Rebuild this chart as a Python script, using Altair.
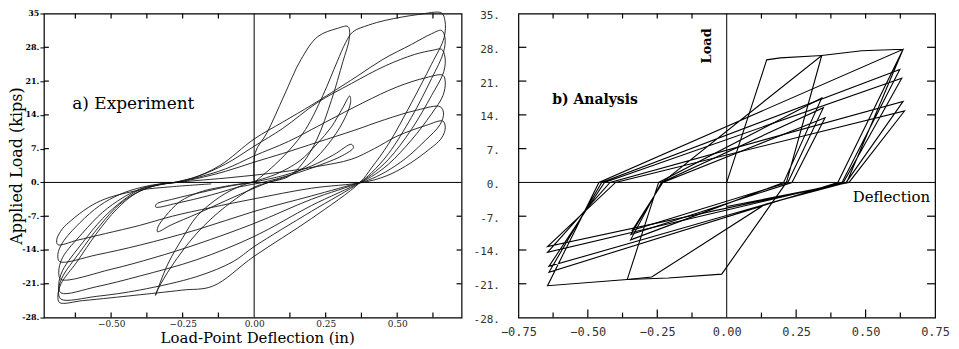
import altair as alt
import pandas as pd

# ---------------- data (deflection in, load kips) -------------
# a) Experiment: small cycles (about +/-0.34 in), then large cycles (about +/-0.67 in)
EXP_A1 = [(0, 0), (0.004, 6.2), (0.045, 10.3), (0.104, 17.9), (0.163, 25.4), (0.222, 30.2),
          (0.29, 31.9), (0.328, 32.3), (0.333, 30.0), (0.31, 25.0), (0.27, 17.0), (0.22, 9.0),
          (0.17, 4.0), (0.12, 1.2), (0.05, 0.0), (0.0, -1.0), (-0.1, -5.0), (-0.2, -10.5),
          (-0.29, -17.5), (-0.335, -22.0), (-0.345, -23.4), (-0.33, -21.0), (-0.30, -16.7),
          (-0.25, -11.5), (-0.2, -7.0), (-0.12, -3.0), (-0.05, -0.8), (0.0, 0.2)]
EXP_A2 = [(0.0, 0.2), (0.08, 1.8), (0.16, 4.5), (0.22, 8.0), (0.27, 11.5), (0.31, 15.5),
          (0.334, 17.9), (0.337, 16.5), (0.31, 12.5), (0.26, 8.0), (0.2, 4.2), (0.13, 1.6),
          (0.05, 0.0), (0.0, -1.2), (-0.1, -3.8), (-0.2, -6.5), (-0.29, -8.8), (-0.338, -10.2),
          (-0.336, -9.2), (-0.31, -7.0), (-0.26, -4.0), (-0.19, -2.0), (-0.1, -0.8), (0.0, 0.1)]
EXP_A3 = [(0.0, 0.1), (0.1, 1.4), (0.2, 3.4), (0.28, 5.8), (0.34, 7.9), (0.347, 7.2),
          (0.31, 5.6), (0.23, 3.6), (0.13, 1.6), (0.03, 0.0), (-0.05, -0.9), (-0.15, -2.6),
          (-0.27, -4.3), (-0.344, -5.1), (-0.342, -4.5), (-0.28, -3.4), (-0.18, -2.0),
          (-0.08, -0.7), (0.0, 0.0)]
EXP_B1 = [(0.0, 0.0), (0.06, 3.0), (0.12, 6.5), (0.18, 11.0), (0.24, 18.0), (0.29, 25.0),
          (0.32, 29.0), (0.345, 31.2), (0.4, 32.6), (0.46, 33.6), (0.575, 34.8), (0.655, 35.1),
          (0.667, 33.5), (0.664, 30.0), (0.62, 24.5), (0.55, 16.5), (0.47, 8.0), (0.41, 3.0),
          (0.37, 0.0), (0.2, -7.5), (0.0, -15.3), (-0.145, -21.5), (-0.25, -22.3),
          (-0.34, -22.9), (-0.5, -23.9), (-0.6, -24.5), (-0.68, -24.9), (-0.686, -23.5),
          (-0.675, -21.0), (-0.62, -16.5), (-0.55, -10.5), (-0.48, -5.5), (-0.42, -2.5),
          (-0.36, -0.9), (-0.3, -0.2)]
EXP_B2 = [(-0.3, -0.2), (-0.22, 0.8), (-0.12, 3.5), (0.0, 9.0), (0.1, 12.5), (0.2, 16.0),
          (0.27, 18.6), (0.36, 22.0), (0.45, 25.5), (0.55, 28.6), (0.62, 30.8), (0.655, 31.5),
          (0.667, 30.0), (0.662, 27.0), (0.62, 21.5), (0.55, 13.5), (0.47, 6.0), (0.41, 2.0),
          (0.37, 0.0), (0.2, -6.0), (0.0, -13.3), (-0.073, -16.4), (-0.2, -19.5),
          (-0.4, -22.3), (-0.55, -23.6), (-0.675, -24.2), (-0.684, -22.6), (-0.672, -19.8),
          (-0.61, -14.5), (-0.54, -9.0), (-0.47, -4.5), (-0.4, -1.8), (-0.34, -0.6),
          (-0.28, 0.0)]
EXP_B3 = [(-0.28, 0.0), (-0.2, 1.2), (-0.1, 3.8), (0.0, 7.5), (0.1, 11.2), (0.22, 16.5),
          (0.34, 20.5), (0.46, 24.2), (0.56, 26.5), (0.625, 27.4), (0.655, 27.6),
          (0.667, 26.0), (0.663, 23.0), (0.62, 18.0), (0.55, 11.0), (0.47, 4.8), (0.41, 1.6),
          (0.37, 0.0), (0.2, -4.8), (0.0, -11.2), (-0.2, -16.0), (-0.4, -19.4),
          (-0.55, -21.6), (-0.675, -22.9), (-0.683, -21.3), (-0.67, -18.3), (-0.6, -12.5),
          (-0.53, -7.5), (-0.46, -3.8), (-0.4, -1.5), (-0.33, -0.4), (-0.27, 0.0)]
EXP_B4 = [(-0.27, 0.0), (-0.2, 1.0), (-0.1, 2.8), (0.0, 5.5), (0.12, 8.5), (0.25, 12.5),
          (0.38, 16.5), (0.5, 19.8), (0.6, 21.7), (0.66, 22.2), (0.668, 20.8), (0.66, 18.0),
          (0.62, 14.2), (0.55, 8.8), (0.47, 3.8), (0.41, 1.2), (0.37, 0.0), (0.2, -3.5),
          (0.0, -8.5), (-0.2, -12.8), (-0.35, -15.6), (-0.5, -18.0), (-0.675, -20.1),
          (-0.683, -18.6), (-0.67, -15.6), (-0.6, -10.5), (-0.53, -6.2), (-0.46, -3.2),
          (-0.4, -1.4), (-0.33, -0.4), (-0.27, 0.0)]
EXP_B5 = [(-0.27, 0.0), (-0.2, 0.8), (-0.1, 2.3), (0.0, 4.2), (0.1, 6.0), (0.22, 8.3),
          (0.35, 10.8), (0.456, 13.0), (0.57, 15.0), (0.65, 15.7), (0.662, 14.4), (0.65, 12.0),
          (0.6, 8.8), (0.53, 5.0), (0.46, 2.2), (0.4, 0.5), (0.37, 0.0), (0.2, -2.8),
          (0.0, -6.0), (-0.2, -9.8), (-0.4, -13.0), (-0.55, -15.0), (-0.68, -16.4),
          (-0.686, -14.9), (-0.67, -12.5), (-0.61, -8.4), (-0.54, -4.8), (-0.47, -2.5),
          (-0.4, -1.1), (-0.33, -0.3), (-0.27, 0.0)]
EXP_B6 = [(-0.27, 0.0), (-0.2, 0.4), (-0.1, 0.9), (0.0, 1.5), (0.1, 2.2), (0.22, 3.3),
          (0.34, 4.8), (0.42, 7.0), (0.5, 9.6), (0.6, 11.8), (0.66, 12.7), (0.668, 11.3),
          (0.655, 9.2), (0.6, 6.3), (0.53, 3.4), (0.46, 1.3), (0.38, 0.0), (0.2, -1.2),
          (0.0, -3.4), (-0.15, -5.2), (-0.286, -7.0), (-0.4, -8.9), (-0.52, -10.6),
          (-0.62, -12.0), (-0.686, -12.9), (-0.69, -11.8), (-0.67, -9.6), (-0.64, -7.9),
          (-0.58, -5.2), (-0.52, -3.4), (-0.4, -1.6), (-0.29, -0.9), (-0.15, -0.3)]

# b) Analysis: piecewise-linear path
ANA_A = [(0, 0), (0.144, 25.4), (0.193, 25.8), (0.342, 26.3), (0.215, 0), (-0.018, -19.0),
         (-0.21, -19.8), (-0.358, -20.1), (-0.245, 0), (0.342, 17.5), (0.205, 0),
         (-0.346, -11.9), (-0.235, 0), (0.348, 15.5), (0.22, 0), (-0.34, -9.9), (-0.23, 0),
         (0.354, 13.4), (0.235, 0), (-0.345, -10.8), (-0.232, 0)]
ANA_B = [(-0.232, 0), (0.342, 26.3), (0.486, 27.3), (0.635, 27.6), (0.432, 0), (0.139, -4.5),
         (-0.27, -19.6), (-0.358, -20.1), (-0.645, -21.4), (-0.46, 0), (0.635, 27.6),
         (0.40, 0), (-0.64, -18.6), (-0.45, 0), (0.623, 23.4), (0.415, 0), (-0.64, -17.4),
         (-0.44, 0), (0.63, 21.6), (0.42, 0), (-0.645, -14.5), (-0.42, 0), (0.635, 16.8),
         (0.43, 0), (-0.645, -13.3), (-0.40, 0), (0.64, 14.8), (0.44, 0), (0.0, -5.0)]

Y_LABELS = [35, 28, 21, 14, 7, 0, -7, -14, -21, -28]
Y_TICKS = [28, 21, 14, 7, -7, -14, -21]
XA_LABELS = [-0.5, -0.25, 0.0, 0.25, 0.5]
XB_LABELS = [-0.75, -0.5, -0.25, 0.0, 0.25, 0.5, 0.75]
X_TICKS = [-0.625, -0.5, -0.375, -0.25, -0.125, 0.125, 0.25, 0.375, 0.5, 0.625]
XB_MAJOR = [-0.5, -0.25, 0.25, 0.5]
XB_MINOR = [-0.625, -0.375, -0.125, 0.125, 0.375, 0.625]

NOTE_A = {"t": ["a) Experiment"], "x": [-0.636], "y": [16.3]}
NOTE_B = {"t": ["b) Analysis"], "x": [-0.628], "y": [17.0]}
NOTE_LOAD = {"t": ["Load"], "x": [-0.072], "y": [28.3]}
NOTE_DEFL = {"t": ["Deflection"], "x": [0.732], "y": [-3.1]}


def loops_df(named):
    rows = []
    for name, pts in named:
        for i, (x, y) in enumerate(pts):
            rows.append({"loop": name, "seq": i, "x": x, "y": y})
    return pd.DataFrame(rows)


exp_df = loops_df([("A1", EXP_A1), ("A2", EXP_A2), ("A3", EXP_A3), ("B1", EXP_B1),
                   ("B2", EXP_B2), ("B3", EXP_B3), ("B4", EXP_B4), ("B5", EXP_B5),
                   ("B6", EXP_B6)])
ana_df = loops_df([("A", ANA_A), ("B", ANA_B)])

WA, WB, H = 419, 418, 305
YS = alt.Scale(domain=[-28, 35], nice=False, zero=False)
XSA = alt.Scale(domain=[-0.735, 0.725], nice=False, zero=False)
XSB = alt.Scale(domain=[-0.75, 0.75], nice=False, zero=False)
SERIF = "DejaVu Serif"
MONO = "DejaVu Sans Mono"
zero = pd.DataFrame({"x": [0.0], "y": [0.0]})

AX_XA = alt.Axis(
    values=XA_LABELS, format=".2f", labelFont=SERIF, labelFontSize=9, labelColor="#222",
    labelPadding=2, ticks=False, domain=False, grid=False, labelFlush=False,
    labelOverlap=False, title="Load-Point Deflection (in)", titleFont=SERIF,
    titleFontSize=15, titleFontWeight="normal", titlePadding=2, titleX=214)
AX_YA = alt.Axis(
    values=Y_LABELS, labelExpr="datum.value == 35 ? '35' : datum.value + '.'",
    labelFont=SERIF, labelFontSize=8, labelFontWeight="bold", labelPadding=1,
    ticks=True, tickSize=4, tickColor="black", domain=False, grid=False,
    labelFlush=False, labelOverlap=False, title="Applied Load (kips)",
    titleFont=SERIF, titleFontSize=16, titleFontWeight="normal", titlePadding=-3)
AX_XB = alt.Axis(
    values=XB_LABELS, format=".2f", labelFont=MONO, labelFontSize=12, labelColor="#333",
    labelPadding=9, ticks=False, domain=False, grid=False, labelFlush=False,
    labelOverlap=False, title="")
AX_YB = alt.Axis(
    values=Y_LABELS, labelExpr="datum.value + '.'", labelFont=MONO, labelFontSize=11,
    labelColor="#333", labelPadding=19, labelOffset=2, ticks=False, domain=False,
    grid=False, labelFlush=False, labelOverlap=False, title="")


def common_layers(xs, ax_x, ax_y, w, ticks_x_long, ticks_x_short, tick_len):
    xdf_s = pd.DataFrame({"x": ticks_x_short})
    xdf_l = pd.DataFrame({"x": ticks_x_long})
    ydf = pd.DataFrame({"y": Y_TICKS})
    X = lambda: alt.X("x:Q", scale=xs, axis=ax_x)
    Y = lambda: alt.Y("y:Q", scale=YS, axis=ax_y)
    layers = [
        alt.Chart(zero).mark_rule(color="black", strokeWidth=1).encode(x=X()),
        alt.Chart(zero).mark_rule(color="black", strokeWidth=1).encode(y=Y()),
        alt.Chart(ydf).mark_rule(color="black", strokeWidth=1.2).encode(
            y=Y(), x=alt.value(0), x2=alt.value(tick_len)),
        alt.Chart(ydf).mark_rule(color="black", strokeWidth=1.2).encode(
            y=Y(), x=alt.value(w), x2=alt.value(w - tick_len)),
    ]
    for df, ln in ((xdf_s, 5), (xdf_l, tick_len)):
        if len(df):
            layers.append(alt.Chart(df).mark_rule(color="black", strokeWidth=1.2).encode(
                x=X(), y=alt.value(0), y2=alt.value(5)))
            layers.append(alt.Chart(df).mark_rule(color="black", strokeWidth=1.2).encode(
                x=X(), y=alt.value(H), y2=alt.value(H - ln)))
    return layers


def note(d, xs, ax_x, ax_y, **kw):
    return alt.Chart(pd.DataFrame(d)).mark_text(color="black", **kw).encode(
        x=alt.X("x:Q", scale=xs, axis=ax_x), y=alt.Y("y:Q", scale=YS, axis=ax_y),
        text="t:N")


exp_lines = alt.Chart(exp_df).mark_line(
    interpolate="catmull-rom", strokeWidth=0.9, color="#151515").encode(
    x=alt.X("x:Q", scale=XSA, axis=AX_XA),
    y=alt.Y("y:Q", scale=YS, axis=AX_YA),
    detail="loop:N", order="seq:Q")

panel_a = alt.layer(
    exp_lines,
    *common_layers(XSA, AX_XA, AX_YA, WA, [], X_TICKS, 5),
    note(NOTE_A, XSA, AX_XA, AX_YA, align="left", baseline="middle", font=SERIF,
         fontSize=17),
).properties(width=WA, height=H)

ana_lines = alt.Chart(ana_df).mark_line(strokeWidth=1.1, color="black").encode(
    x=alt.X("x:Q", scale=XSB, axis=AX_XB),
    y=alt.Y("y:Q", scale=YS, axis=AX_YB),
    detail="loop:N", order="seq:Q")

panel_b = alt.layer(
    ana_lines,
    *common_layers(XSB, AX_XB, AX_YB, WB, XB_MAJOR, XB_MINOR, 8),
    note(NOTE_B, XSB, AX_XB, AX_YB, align="left", baseline="middle", font=SERIF,
         fontSize=14, fontWeight="bold"),
    note(NOTE_LOAD, XSB, AX_XB, AX_YB, align="center", baseline="middle", font=SERIF,
         fontSize=13, fontWeight="bold", angle=270),
    note(NOTE_DEFL, XSB, AX_XB, AX_YB, align="right", baseline="middle", font=SERIF,
         fontSize=15),
).properties(width=WB, height=H)

chart = alt.hconcat(panel_a, panel_b, spacing=57, bounds="flush").properties(
    padding={"left": 0, "top": 0, "right": 0, "bottom": 0},
    background="white",
).configure_view(stroke="black", strokeWidth=1.2)

chart.save("out.html", embed_options={"renderer": "svg", "actions": False})
